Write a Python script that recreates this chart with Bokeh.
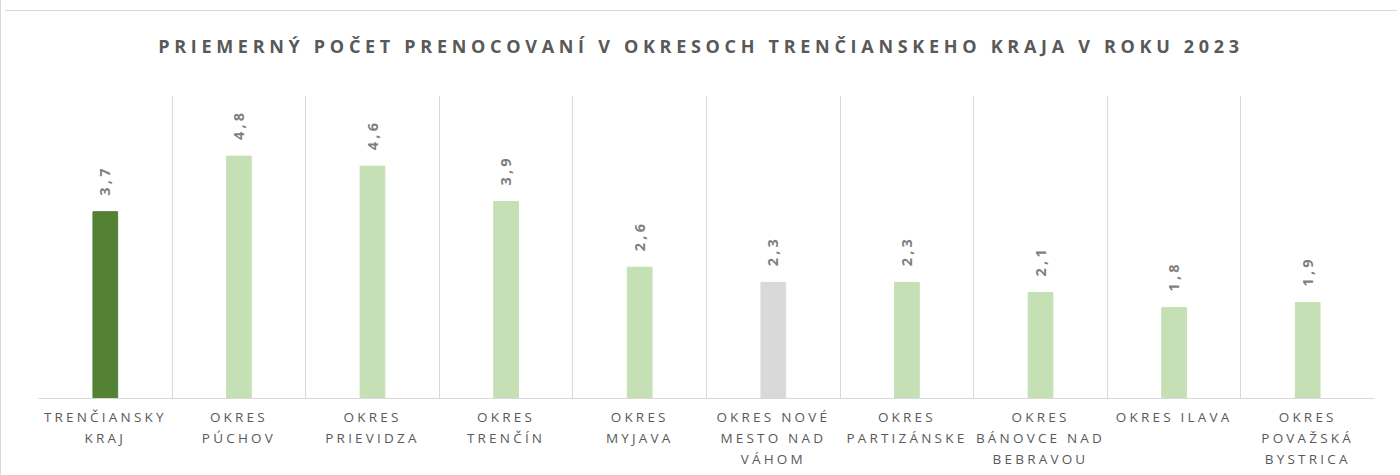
import math
from bokeh.plotting import figure
from bokeh.models import Range1d, FixedTicker, Div, LinearAxis
from bokeh.layouts import column
from bokeh.embed import file_html
from bokeh.resources import INLINE
from bokeh.core.properties import value

title_text = "PRIEMERNÝ POČET PRENOCOVANÍ V OKRESOCH TRENČIANSKEHO KRAJA V ROKU 2023"
categories = [
    "TRENČIANSKY KRAJ", "OKRES PÚCHOV", "OKRES PRIEVIDZA", "OKRES TRENČÍN",
    "OKRES MYJAVA", "OKRES NOVÉ MESTO NAD VÁHOM", "OKRES PARTIZÁNSKE",
    "OKRES BÁNOVCE NAD BEBRAVOU", "OKRES ILAVA", "OKRES POVAŽSKÁ BYSTRICA",
]
tick_labels = [
    "TRENČIANSKY\nKRAJ", "OKRES\nPÚCHOV", "OKRES\nPRIEVIDZA", "OKRES\nTRENČÍN",
    "OKRES\nMYJAVA", "OKRES NOVÉ\nMESTO NAD\nVÁHOM", "OKRES\nPARTIZÁNSKE",
    "OKRES\nBÁNOVCE NAD\nBEBRAVOU", "OKRES ILAVA", "OKRES\nPOVAŽSKÁ\nBYSTRICA",
]
values = [3.7, 4.8, 4.6, 3.9, 2.6, 2.3, 2.3, 2.1, 1.8, 1.9]
bar_colors = ["#548235", "#c5e0b4", "#c5e0b4", "#c5e0b4", "#c5e0b4",
              "#d9d9d9", "#c5e0b4", "#c5e0b4", "#c5e0b4", "#c5e0b4"]

n_cat = len(categories)
xs = [i + 0.5 for i in range(n_cat)]
value_labels = [f"{v:.1f}".replace(".", ",") for v in values]

W = 1392
title_h = 68
fig_h = 397
border_l, border_r = 38, 18
LETTER_SPACING = 3.2  # px, Excel-style spaced lettering
px_per_unit = (W - border_l - border_r) / n_cat

title = Div(
    text=f'<div style="width:{W}px;text-align:center;margin-top:5px;'
         f'border-top:1px solid #d9d9d9;padding-top:23px;line-height:24px;'
         f'font-family:\'Open Sans\';font-size:18px;font-weight:bold;color:#595959;'
         f'letter-spacing:4.7px;white-space:nowrap;">{title_text}</div>',
    width=W, height=title_h,
)

p = figure(width=W, height=fig_h, output_backend="svg", toolbar_location=None,
           x_range=Range1d(0, n_cat), y_range=Range1d(0, 6),
           x_axis_location=None, y_axis_location=None,
           min_border_left=border_l, min_border_right=border_r, min_border_top=17,
           min_border_bottom=fig_h - 320,
           styles={"letter-spacing": f"{LETTER_SPACING}px"})
p.outline_line_color = None
p.border_fill_alpha = 0

p.vbar(x=xs, top=values, bottom=0, width=0.185, color=bar_colors)
p.text(x=xs, y=values, text=value_labels, angle=math.pi / 2,
       text_align="left", text_baseline="middle", y_offset=-16,
       text_font=value("Open Sans"), text_font_size="14.5px",
       text_font_style="bold", text_color="#7f7f7f")

p.ygrid.grid_line_color = None
p.xgrid.ticker = FixedTicker(ticks=list(range(n_cat + 1)))
p.xgrid.grid_line_color = "#d9d9d9"
p.xgrid.grid_line_width = 1

# category labels: one axis per text line, each line centred under its bar
split_labels = [lab.split("\n") for lab in tick_labels]
for k in range(max(len(s) for s in split_labels)):
    ticks, overrides = [], {}
    for i, parts in enumerate(split_labels):
        if k < len(parts):
            t = xs[i] - len(parts[k]) * LETTER_SPACING / 2 / px_per_unit
            ticks.append(t)
            overrides[t] = parts[k]
    ax = LinearAxis(ticker=FixedTicker(ticks=ticks, minor_ticks=[]),
                    major_label_overrides=overrides)
    ax.major_tick_line_color = None
    ax.minor_tick_line_color = None
    ax.major_tick_out = 0
    ax.major_tick_in = 0
    ax.minor_tick_out = 0
    ax.axis_line_color = "#d9d9d9" if k == 0 else None
    ax.major_label_standoff = 9 if k == 0 else 0
    ax.major_label_text_font = "Open Sans"
    ax.major_label_text_font_size = "13.5px"
    ax.major_label_text_color = "#595959"
    p.add_layout(ax, "below")

layout = column(title, p, styles={"box-shadow": "inset 1px 0 0 #d9d9d9"})

open("out.html", "w").write(file_html(layout, INLINE))
